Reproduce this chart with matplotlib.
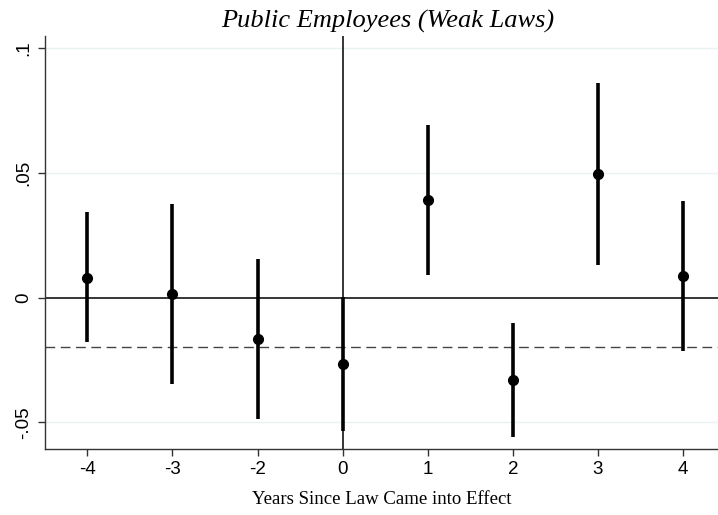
import matplotlib
matplotlib.use("Agg")
import matplotlib.pyplot as plt

categories = ["-4", "-3", "-2", "0", "1", "2", "3", "4"]
estimates = [0.0080, 0.0015, -0.0166, -0.0267, 0.0392, -0.0330, 0.0496, 0.0087]
ci_upper = [0.0341, 0.0376, 0.0154, 0.0003, 0.0691, -0.0101, 0.0860, 0.0387]
ci_lower = [-0.0179, -0.0347, -0.0485, -0.0533, 0.0091, -0.0560, 0.0131, -0.0213]
yticks = [-0.05, 0, 0.05, 0.1]
ytick_labels = ["-.05", "0", ".05", ".1"]
ref_line = -0.02
event_category = "0"

fig = plt.figure(figsize=(7.18, 5.15), dpi=100)
ax = fig.add_axes([45/718, 1 - 449/515, 1 - 45/718, (449 - 36)/515])

pos = list(range(1, len(categories) + 1))

for y in [0.1, 0.05, -0.05]:
    ax.axhline(y, color="#eaf2f3", lw=1.0, zorder=0)

ax.axhline(0, color="black", lw=1.1, zorder=1)
ax.axhline(ref_line, color="#444444", lw=1.0, ls=(0, (7, 4)), zorder=1)
ax.axvline(pos[categories.index(event_category)], color="black", lw=1.1, zorder=1)

ax.vlines(pos, ci_lower, ci_upper, color="black", lw=2.6, zorder=2)
ax.plot(pos, estimates, "o", color="black", ms=7, zorder=3)

ax.set_xlim(0.502, 8.41)
ax.set_ylim(-0.0607, 0.1048)
ax.set_xticks(pos)
ax.set_xticklabels(categories, fontfamily="Liberation Sans", fontsize=13.5)
ax.set_yticks(yticks)
ax.set_yticklabels(ytick_labels, fontfamily="Liberation Sans", fontsize=13.5,
                   rotation=90, va="center")

for s in ["top", "right"]:
    ax.spines[s].set_visible(False)
for s in ["left", "bottom"]:
    ax.spines[s].set_color("#333333")
    ax.spines[s].set_linewidth(1.0)
ax.tick_params(axis="both", length=5, width=1.0, color="#333333", pad=4)

ax.set_xlabel("Years Since Law Came into Effect", fontfamily="Liberation Serif",
              fontsize=13.5, labelpad=9)
fig.text(388/718, 1 - 21/515, "Public Employees (Weak Laws)",
         fontfamily="Liberation Serif", style="italic", fontsize=19,
         ha="center", va="center")

fig.savefig("out.png", dpi=100)
